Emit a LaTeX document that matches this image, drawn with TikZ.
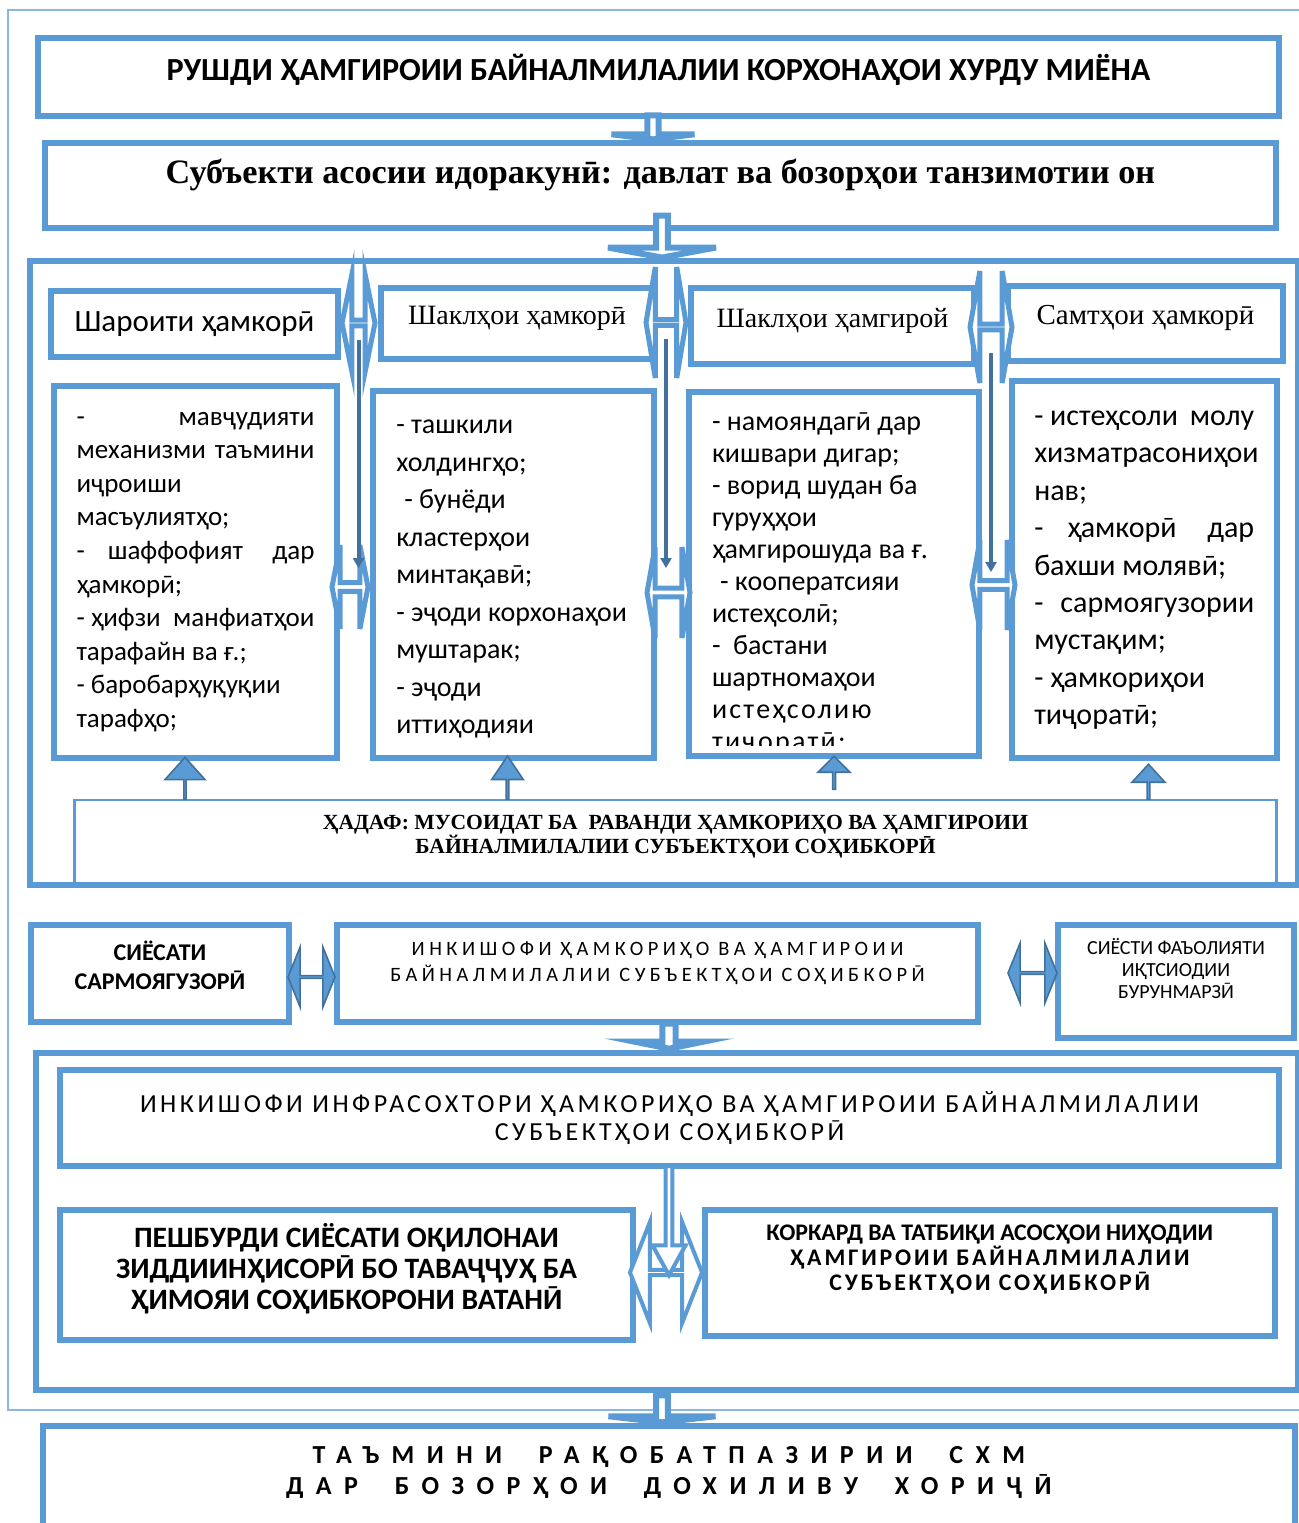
\documentclass[tikz,border=0pt]{standalone}
\usepackage{fontspec}
\setmainfont{Carlito}
\newfontfamily\serifface{Liberation Serif}
\usetikzlibrary{shapes.arrows, arrows.meta, calc}

\definecolor{boxblue}{HTML}{5B9BD5}
\definecolor{lineblue}{HTML}{41719C}
\definecolor{frameblue}{HTML}{8AB6E0}
\newcommand{\setfs}[2]{\fontsize{#1}{#2}\selectfont}
\newcommand{\deepstrut}[1]{\rule[-#1]{0pt}{#1}}

\begin{document}
\begin{tikzpicture}
[x=0.5pt, y=-0.5pt,
 box/.style={draw=boxblue, line width=3pt, fill=white, inner sep=0pt, outer sep=0pt, align=center},
 thinbox/.style={draw=boxblue, line width=1.2pt, inner sep=0pt, outer sep=0pt, align=center},
 drop/.style={single arrow, draw=boxblue, fill=white, line width=3pt, rotate=-90, inner sep=0pt},
 lift/.style={single arrow, draw=lineblue, fill=boxblue, line width=0.8pt, rotate=90, inner sep=0pt},
 link/.style={double arrow, draw=boxblue, fill=white, line width=2.5pt, inner sep=0pt},
 swap/.style={double arrow, draw=lineblue, fill=boxblue, line width=0.8pt, inner sep=0pt},
 drop line/.style={draw=lineblue, line width=2pt, -{Triangle[length=5pt, width=5.5pt]}}]
\useasboundingbox (0,0) rectangle (1298,1523);
\draw[frameblue, line width=1pt] (8,10) rectangle (1305,1410);

\node[box, minimum width=620.5pt, minimum height=39pt, font=\bfseries\setfs{16.1}{19}]
 (title) at (658.5,76.5) {РУШДИ ҲАМГИРОИИ БАЙНАЛМИЛАЛИИ КОРХОНАҲОИ ХУРДУ МИЁНА\deepstrut{9pt}};
\node[box, minimum width=615.5pt, minimum height=42.5pt, font=\serifface\bfseries\setfs{17.1}{20}]
 (subject) at (660.5,185.5) {Субъекти асосии идоракунӣ: давлат ва бозорҳои танзимотии он\deepstrut{14pt}};
\node[drop, minimum height=12pt, minimum width=41.5pt, single arrow head extend=9.75pt,
 single arrow tip angle=166] (drop 1) at (653,127) {};

% first block
\node[box, minimum width=634pt, minimum height=312pt] (main) at (664,572.5) {};
\node[drop, minimum height=21pt, minimum width=54pt, single arrow head extend=12.5pt,
 single arrow tip angle=159] (drop 2) at (662,236) {};

\node[box, minimum width=143.5pt, minimum height=33pt, font=\setfs{15.5}{18}]
 (head 1) at (194.5,324) {Шароити ҳамкорӣ};
\node[box, minimum width=136pt, minimum height=35.5pt, font=\serifface\setfs{14}{16}]
 (head 2) at (517,323.5) {Шаклҳои ҳамкорӣ\deepstrut{8pt}};
\node[box, minimum width=141.5pt, minimum height=38.25pt, font=\serifface\setfs{14}{16}]
 (head 3) at (832.5,325.75) {Шаклҳои ҳамгирой\deepstrut{8pt}};
\node[box, minimum width=137.5pt, minimum height=37.25pt, font=\serifface\setfs{14.5}{16}]
 (head 4) at (1145.5,323.25) {Самтҳои ҳамкорӣ\deepstrut{8pt}};

\node[box, minimum width=141.5pt, minimum height=186.25pt] (list 1) at (195.5,571.75)
 {\parbox[c][159.75pt][t]{119pt}{\setfs{13.5}{16.8}\raggedright
 -\hfill мавҷудияти\\
 механизми \hfill таъмини\\
 иҷроиши\\
 масъулиятҳо;\\
 -\hfill шаффофият \hfill дар\\
 ҳамкорӣ;\\
 - ҳифзи \hfill манфиатҳои\\
 тарафайн ва ғ.;\\
 - баробарҳуқуқии\\
 тарафҳо;}};
\node[box, minimum width=140.25pt, minimum height=183.5pt] (list 2) at (513.25,574.5)
 {\parbox[c][154.5pt][t]{117pt}{\setfs{14}{18.75}\raggedright
 - ташкили\\
 холдингҳо;\\
 \hspace{4pt}- бунёди\\
 кластерҳои\\
 минтақавӣ;\\
 - эҷоди корхонаҳои\\
 муштарак;\\
 - эҷоди\\
 иттиҳодияи}};
\begin{scope}
\clip (690,394) rectangle (977,745);
\node[box, minimum width=145.25pt, minimum height=182pt] (list 3) at (833.75,574)
 {\parbox[c][161pt][t]{121.75pt}{\setfs{14}{16}\raggedright
 - намояндагӣ дар\\
 кишвари дигар;\\
 - ворид шудан ба\\
 гуруҳҳои\\
 ҳамгирошуда ва ғ.\\
 \hspace{4pt}- кооператсияи\\
 истеҳсолӣ;\\
 -\ \ бастани\\
 шартномаҳои\\
 {\addfontfeatures{LetterSpace=8}истеҳсолию}\\
 {\addfontfeatures{LetterSpace=8}тиҷоратӣ;}}};
\end{scope}
\draw[boxblue, line width=3pt] (list 3.north west) rectangle (list 3.south east);
\node[box, minimum width=132.75pt, minimum height=188.5pt] (list 4) at (1144.25,569.5)
 {\parbox[c][158.5pt][t]{110pt}{\setfs{15}{18.7}\raggedright
 - истеҳсоли \hfill молу\\
 хизматрасониҳои\\
 нав;\\
 -\hfill ҳамкорӣ \hfill дар\\
 бахши молявӣ;\\
 -\hfill сармоягузории\\
 мустақим;\\
 - ҳамкориҳои\\
 тиҷоратӣ;}};

\node[thinbox, minimum width=601pt, minimum height=42pt, font=\serifface\bfseries\setfs{10.8}{12}]
 (goal) at (675.5,842) {ҲАДАФ: МУСОИДАТ БА\ \ РАВАНДИ ҲАМКОРИҲО ВА ҲАМГИРОИИ\\
 БАЙНАЛМИЛАЛИИ СУБЪЕКТҲОИ СОҲИБКОРӢ\deepstrut{8pt}};

\foreach \i/\x/\y/\l/\w/\e/\a in {1/185/779/21/20/6.5/84, 2/507.5/778.5/21.5/15.75/4.75/68,
 3/834/773.5/16.5/16/4/90, 4/1148.5/782.5/17.5/16.5/4.5/85}
 \node[lift, minimum height=\l pt, minimum width=\w pt, single arrow head extend=\e pt,
 single arrow tip angle=\a] (lift \i) at (\x,\y) {};

\foreach \i/\x/\y/\l/\h/\e/\a in {1/358.5/323/16.5/49/19.5/157, 2/666/322.5/20/55.5/22.5/161,
 3/991/327/21/56/22.5/160}
 \node[link, minimum height=\l pt, minimum width=\h pt, double arrow head extend=\e pt,
 double arrow tip angle=\a] (link \i) at (\x,\y) {};
\foreach \i/\x/\y/\l/\h/\e/\a in {1/350/587/18/42/11/158, 2/668.5/592.5/21.5/45.5/11.5/160,
 3/993.5/585/21.5/45/11.75/160}
 \node[link, minimum height=\l pt, minimum width=\h pt, double arrow head extend=\e pt,
 double arrow tip angle=\a] (gap \i) at (\x,\y) {};
\foreach \i/\s/\t in {1/8.5/9.5, 2/8.25/12.25, 3/13/6.5}
 \draw[drop line] ([yshift=-\s pt]link \i.center) -- ([yshift=\t pt]link \i.center |- gap \i.center);

% second row
\node[box, minimum width=129pt, minimum height=48.65pt, font=\bfseries\setfs{12}{14.5}]
 (policy 1) at (160,973.35) {СИЁСАТИ\\САРМОЯГУЗОРӢ\deepstrut{8pt}};
\node[box, minimum width=320.5pt, minimum height=48.65pt, font=\setfs{10.2}{13}\addfontfeatures{LetterSpace=22}]
 (policy 2) at (657.5,973.35) {ИНКИШОФИ ҲАМКОРИҲО ВА ҲАМГИРОИИ\\
 БАЙНАЛМИЛАЛИИ СУБЪЕКТҲОИ СОҲИБКОРӢ\deepstrut{12pt}};
\node[box, minimum width=118pt, minimum height=56.4pt, font=\setfs{10}{11}]
 (policy 3) at (1176,981.1) {СИЁСТИ ФАЪОЛИЯТИ\\ИҚТСИОДИИ\\БУРУНМАРЗӢ\deepstrut{13pt}};
\node[swap, minimum height=23.5pt, minimum width=30pt, double arrow head extend=8.25pt,
 double arrow tip angle=136] (swap 1) at (311.5,977) {};
\node[swap, minimum height=24.5pt, minimum width=30pt, double arrow head extend=8.5pt,
 double arrow tip angle=136] (swap 2) at (1032.5,973) {};

% second block
\node[box, minimum width=631.25pt, minimum height=168.75pt] (zone) at (666.75,1221.25) {};
\node[drop, minimum height=12.5pt, minimum width=35pt, single arrow head extend=6.5pt,
 single arrow tip angle=157] (drop 3) at (669,1035.5) {};
\node[box, minimum width=609.5pt, minimum height=48pt, font=\setfs{13}{14}\addfontfeatures{LetterSpace=13.5}]
 (infra) at (669.5,1118) {ИНКИШОФИ ИНФРАСОХТОРИ ҲАМКОРИҲО ВА ҲАМГИРОИИ БАЙНАЛМИЛАЛИИ\\
 СУБЪЕКТҲОИ СОҲИБКОРӢ};
\node[box, minimum width=286.5pt, minimum height=65.15pt, font=\bfseries\setfs{14.8}{15.5}]
 (antimono) at (346.5,1274.85) {ПЕШБУРДИ СИЁСАТИ ОҚИЛОНАИ\\ЗИДДИИНҲИСОРӢ БО ТАВАҶҶУҲ БА\\
 ҲИМОЯИ СОҲИБКОРОНИ ВАТАНӢ\deepstrut{8pt}};
\node[box, minimum width=285.25pt, minimum height=63.15pt, font=\bfseries\setfs{11.9}{12.5}]
 (basis) at (989.75,1272.85) {КОРКАРД ВА ТАТБИҚИ АСОСҲОИ НИҲОДИИ\\
 {\addfontfeatures{LetterSpace=12}ҲАМГИРОИИ БАЙНАЛМИЛАЛИИ}\\
 {\addfontfeatures{LetterSpace=12}СУБЪЕКТҲОИ СОҲИБКОРӢ}\deepstrut{15pt}};
\node[link, line width=2pt, minimum height=36pt, minimum width=50.5pt, double arrow head extend=17.75pt,
 double arrow tip angle=137] (twin) at (666,1272.5) {};
\node[drop, line width=2pt, minimum height=54.5pt, minimum width=16.5pt, single arrow head extend=3.75pt,
 single arrow tip angle=58] (drop 5) at (669,1217.5) {};

% result
\node[box, minimum width=626.15pt, minimum height=52pt, font=\bfseries\setfs{13}{15.5}\addfontfeatures{LetterSpace=48}]
 (result) at (668.85,1478) {ТАЪМИНИ\ \ РАҚОБАТПАЗИРИИ\ \ СХМ\\
 ДАР\ \ БОЗОРҲОИ\ \ ДОХИЛИВУ\ \ ХОРИҶӢ\deepstrut{8pt}};
\node[drop, minimum height=13.5pt, minimum width=53.5pt, single arrow head extend=12.25pt,
 single arrow tip angle=167] (drop 4) at (662,1408.5) {};
\end{tikzpicture}
\end{document}
